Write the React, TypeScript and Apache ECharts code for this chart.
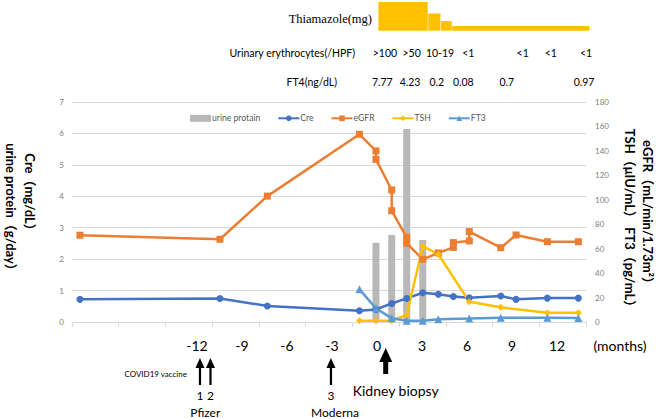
import React, { useEffect, useRef } from "react";
import * as echarts from "echarts";

const W = 661;
const H = 419;

// months relative to kidney biopsy
const monthTickLabels = [-12, -9, -6, -3, 0, 3, 6, 9, 12];

const creMonths = [-19.8, -10.47, -7.31, -1.17, -0.07, 0.98, 1.98, 3.05, 4.09, 5.09, 6.15, 8.25, 9.27, 11.35, 13.42];
const creValues = [0.72, 0.75, 0.51, 0.36, 0.4, 0.59, 0.75, 0.93, 0.88, 0.81, 0.77, 0.83, 0.72, 0.76, 0.76];

const egfrMonths = [-19.8, -10.47, -7.31, -1.17, -0.07, -0.07, 0.98, 0.98, 1.98, 1.98, 3.05, 4.09, 5.09, 5.09, 6.15, 6.15, 8.25, 9.27, 11.35, 13.42];
const egfrValues = [71, 67.7, 103, 153.6, 140, 133, 108, 91, 69.3, 64.4, 51.3, 56.5, 61, 65, 66.3, 74, 60.8, 71.2, 65.7, 65.7];

const tshMonths = [-1.17, -0.07, 0.98, 1.98, 3.05, 4.09, 6.15, 8.25, 11.35, 13.42];
const tshValues = [1, 1, 1, 5.7, 62, 55.4, 16.6, 12, 7.6, 7.6];

const ft3Months = [-1.17, -0.07, 0.98, 1.98, 3.05, 4.09, 6.15, 8.25, 11.35, 13.42];
const ft3Values = [26.7, 11.2, 3, 1, 1, 2.2, 2.8, 3.5, 3.5, 3.2];

const proteinMonths = [-0.07, 0.98, 1.98, 3.05];
const proteinValues = [2.52, 2.77, 6.14, 2.61];

const thiamazoleStart = [0.09, 3.42, 4.27, 5.02];
const thiamazoleEnd = [3.42, 4.27, 5.02, 14.2];
const thiamazoleDose = [30, 18, 10, 5];

const rbcMonths = [0.53, 2.31, 4.2, 6.09, 9.71, 11.58, 13.93];
const rbcLabels = [">100", ">50", "10-19", "<1", "<1", "<1", "<1"];

const ft4Months = [0.35, 2.2, 3.98, 5.75, 8.65, 13.8];
const ft4Labels = ["7.77", "4.23", "0.2", "0.08", "0.7", "0.97"];

const vaccineMonths = [-11.8, -11.1, -3.07];
const vaccineDoseLabels = ["1", "2", "3"];
const vaccineMakerMonths = [-11.45, -2.8];
const vaccineMakers = ["Pfizer", "Moderna"];
const biopsyMonth = 0.58;

const X_MIN = -20.33;
const X_MAX = 13.93;

const zip = (a: number[], b: number[]) => a.map((v, i) => [v, b[i]]);

const SANS = 'Lato, "Noto Sans CJK JP", "Liberation Sans", sans-serif';

export default function App() {
  const ref = useRef<HTMLDivElement>(null);

  useEffect(() => {
    const chart = echarts.init(ref.current!, null, { renderer: "svg", width: W, height: H });
    const axisGray = "#808080";
    const tickVals: number[] = [];
    for (let k = 0; k <= 11; k++) tickVals.push(X_MIN + (k * (X_MAX - X_MIN)) / 11);

    chart.setOption({
      animation: false,
      backgroundColor: "#ffffff",
      textStyle: { fontFamily: SANS },
      grid: [
        { left: 72, right: 75, top: 102, bottom: 97 },
        { left: 72, right: 75, top: 2, height: 28.7 },
      ],
      xAxis: [
        {
          type: "value",
          gridIndex: 0,
          min: X_MIN,
          max: X_MAX,
          splitLine: { show: false },
          axisLine: { lineStyle: { color: "#d9d9d9", width: 1 } },
          axisTick: { show: true, customValues: tickVals, length: 5, lineStyle: { color: "#d9d9d9" } },
          axisLabel: { customValues: monthTickLabels, fontSize: 14, color: "#000", margin: 16, fontFamily: SANS },
        },
        { type: "value", gridIndex: 1, min: X_MIN, max: X_MAX, show: false },
      ],
      yAxis: [
        {
          type: "value",
          gridIndex: 0,
          min: 0,
          max: 7,
          interval: 1,
          position: "left",
          splitLine: { lineStyle: { color: "#d9d9d9" } },
          axisLine: { show: false },
          axisTick: { show: false },
          axisLabel: { color: axisGray, fontSize: 8, margin: 8 },
        },
        {
          type: "value",
          gridIndex: 0,
          min: 0,
          max: 180,
          interval: 20,
          position: "right",
          splitLine: { show: false },
          axisLine: { show: false },
          axisTick: { show: false },
          axisLabel: { color: axisGray, fontSize: 8, margin: 9 },
        },
        { type: "value", gridIndex: 1, min: 0, max: 30, show: false },
      ],
      legend: {
        left: 185,
        top: 109,
        itemWidth: 21,
        itemHeight: 7,
        itemGap: 17,
        textStyle: { color: "#595959", fontSize: 8.6, fontFamily: SANS, padding: [0, 0, 0, -4] },
        data: [{ name: "urine protain", icon: "rect" }, "Cre", "eGFR", "TSH", "FT3"],
      },
      series: [
        {
          name: "urine protain",
          type: "bar",
          xAxisIndex: 0,
          yAxisIndex: 0,
          barWidth: 7,
          itemStyle: { color: "#b8b8b8" },
          data: zip(proteinMonths, proteinValues),
          z: 1,
        },
        {
          name: "Cre",
          type: "line",
          xAxisIndex: 0,
          yAxisIndex: 0,
          symbol: "circle",
          symbolSize: 7,
          color: "#4472C4",
          lineStyle: { width: 2.5 },
          data: zip(creMonths, creValues),
          z: 3,
        },
        {
          name: "eGFR",
          type: "line",
          xAxisIndex: 0,
          yAxisIndex: 1,
          symbol: "rect",
          symbolSize: 7,
          color: "#ED7D31",
          lineStyle: { width: 2.5 },
          data: zip(egfrMonths, egfrValues),
          z: 3,
        },
        {
          name: "TSH",
          type: "line",
          xAxisIndex: 0,
          yAxisIndex: 1,
          symbol: "diamond",
          symbolSize: 7,
          color: "#FFC000",
          lineStyle: { width: 2.5 },
          data: zip(tshMonths, tshValues),
          z: 3,
        },
        {
          name: "FT3",
          type: "line",
          xAxisIndex: 0,
          yAxisIndex: 1,
          symbol: "triangle",
          symbolSize: 8,
          color: "#5B9BD5",
          lineStyle: { width: 2.5 },
          data: zip(ft3Months, ft3Values),
          z: 3,
        },
        {
          name: "Thiamazole",
          type: "custom",
          xAxisIndex: 1,
          yAxisIndex: 2,
          clip: false,
          encode: { x: [0, 1], y: 2 },
          data: thiamazoleStart.map((s, i) => [s, thiamazoleEnd[i], thiamazoleDose[i]]),
          renderItem: (_p: any, api: any) => {
            const a = api.coord([api.value(0), api.value(2)]);
            const b = api.coord([api.value(1), 0]);
            return {
              type: "rect",
              shape: { x: a[0], y: a[1], width: b[0] - a[0] - 0.6, height: b[1] - a[1] },
              style: { fill: "#FFC000" },
            };
          },
        },
      ],
    });

    const px = (m: number) => chart.convertToPixel({ xAxisIndex: 0 }, m) as number;
    const txt = (x: number, y: number, text: string, o: any = {}) => ({
      type: "text",
      x,
      y,
      rotation: o.rotation || 0,
      style: {
        text,
        fill: o.fill || "#000",
        fontSize: o.fontSize || 10.5,
        fontFamily: o.fontFamily || SANS,
        fontWeight: o.fontWeight || "normal",
        align: o.align || "center",
        verticalAlign: "middle",
        textAlign: o.align || "center",
        textVerticalAlign: "middle",
      },
    });

    const g: any[] = [];
    g.push(txt(372, 19, "Thiamazole(mg)", { align: "right", fontSize: 12.5, fontFamily: '"Liberation Serif", "DejaVu Serif", serif' }));
    g.push(txt(355, 53, "Urinary erythrocytes(/HPF)", { align: "right" }));
    rbcMonths.forEach((m, i) => g.push(txt(px(m), 53, rbcLabels[i])));
    g.push(txt(337, 82, "FT4(ng/dL)", { align: "right" }));
    ft4Months.forEach((m, i) => g.push(txt(px(m), 82, ft4Labels[i])));

    const rot = -Math.PI / 2;
    g.push(txt(30, 195, "Cre（mg/dL）", { rotation: rot, fontSize: 13, fontWeight: "bold" }));
    g.push(txt(11, 210, "urine protein（g/day）", { rotation: rot, fontSize: 13, fontWeight: "bold" }));
    g.push(txt(648, 215, "eGFR（mL/min/1.73m²）", { rotation: rot, fontSize: 13, fontWeight: "bold" }));
    g.push(txt(630, 221, "TSH（μIU/mL） FT3（pg/mL）", { rotation: rot, fontSize: 13, fontWeight: "bold" }));

    g.push(txt(620, 345, "(months)", { fontSize: 14 }));

    vaccineMonths.forEach((m, i) => {
      const x = px(m);
      g.push({ type: "rect", shape: { x: x - 1.1, y: 366, width: 2.2, height: 19 }, style: { fill: "#000" } });
      g.push({ type: "polygon", shape: { points: [[x - 4.5, 368], [x + 4.5, 368], [x, 358]] }, style: { fill: "#000" } });
      g.push(txt(x, 395, vaccineDoseLabels[i], { fontSize: 12 }));
    });
    vaccineMakerMonths.forEach((m, i) => g.push(txt(px(m), 412, vaccineMakers[i], { fontSize: 12 })));
    g.push(txt(px(vaccineMonths[0]) - 13, 374, "COVID19 vaccine", { align: "right", fontSize: 8 }));

    const bx = px(biopsyMonth);
    g.push({ type: "rect", shape: { x: bx - 2.5, y: 360, width: 5, height: 14 }, style: { fill: "#000" } });
    g.push({ type: "polygon", shape: { points: [[bx - 6.5, 362], [bx + 6.5, 362], [bx, 348]] }, style: { fill: "#000" } });
    g.push(txt(bx + 10, 390, "Kidney biopsy", { fontSize: 14 }));

    chart.setOption({ graphic: { elements: g } });

    return () => chart.dispose();
  }, []);

  return <div ref={ref} style={{ position: "fixed", left: 0, top: 0, width: W, height: H, background: "#fff" }} />;
}
